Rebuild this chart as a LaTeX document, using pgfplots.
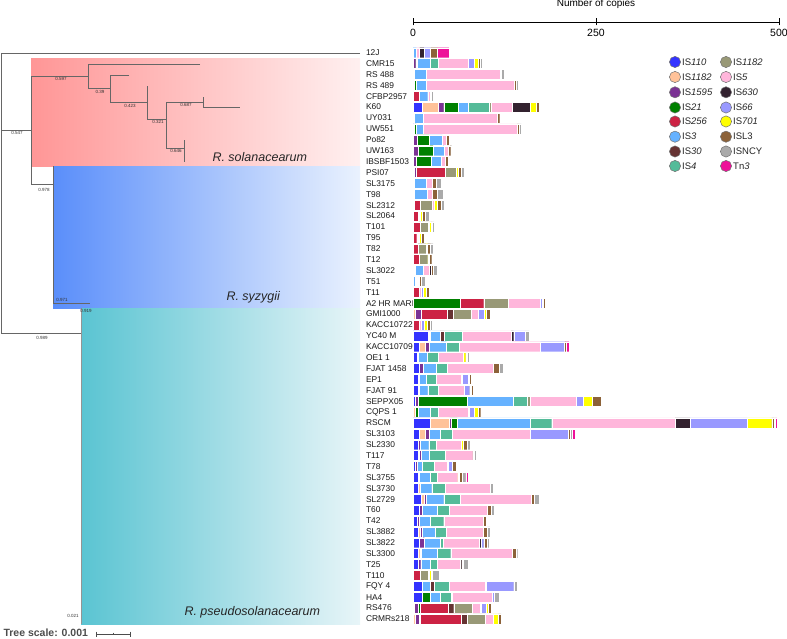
\documentclass[border=0pt]{standalone}
\usepackage{pgfplots}
\pgfplotsset{compat=1.18}
\usepackage{pgfplotstable}
\usepackage{fontspec}
\setmainfont{Liberation Sans}

\definecolor{cIS110}{HTML}{3333FF}
\definecolor{cIS1182}{HTML}{FFC299}
\definecolor{cIS1595}{HTML}{7B3294}
\definecolor{cIS21}{HTML}{008000}
\definecolor{cIS256}{HTML}{CC2244}
\definecolor{cIS3}{HTML}{66B2FF}
\definecolor{cIS30}{HTML}{663333}
\definecolor{cIS4}{HTML}{55BB99}
\definecolor{cISol}{HTML}{999977}
\definecolor{cIS5}{HTML}{FFB6DB}
\definecolor{cIS630}{HTML}{33222F}
\definecolor{cIS66}{HTML}{9999FF}
\definecolor{cIS701}{HTML}{FFFF00}
\definecolor{cISL3}{HTML}{8C6239}
\definecolor{cISNCY}{HTML}{AAAAAA}
\definecolor{cTn3}{HTML}{EE1199}
\definecolor{treegray}{HTML}{666666}

% copies per IS family, one row per strain (top to bottom)
\pgfplotstableread{
row i110 i1182 i1595 i21 i256 i3 i30 i4 iol i5 i630 i66 i701 il3 incy tn3
1  0    0    0    0    0    4.5  0   0    0    4.5   6    9    0   9    0   16
2  0    0    3.6  1.4  0    18   0   12   0    40    0    8    5.5 3    3   0
3  0    0    1.5  0    0    16   0   0    0    101.5 0    0    0   2    3   0
4  1    0    1    2    0    14   0   0    0    120   0    0    0   2.5  3   0
5  0    0    0    0    9    11   0   0    0    3     0    0    0   1.5  2.5 0
6  12   23   7    20   0    13   0   29   3    29    24   0    8   4    0   0
7  0    0    2    0    0    12   0   0    0    101.5 0    0    0   3    2   0
8  1.5  0    0    3    0    10   0   0    0    127.5 0    0    0   3    3   0
9  0    0    6    16   0    18   0   0    0    5.5   0    0    0   3.5  1   0
10 0    0    7    20.5 0    15   0   0    0    6     0    0    0   3    1.5 0
11 0    0    4.5  20.5 0    13.5 0   0    0    5.5   0    0    0   3.5  1   0
12 0    2    2    0    40.5 0    0   0    14.5 0     0    0    3   3.5  4.5 0
13 0    0    0    2    0    16   0   0    0    8     0    0    0   6    7   0
14 0    0    0    1    0    18   0   0    0    7     0    0    0   7    8   0
15 0    0    2    0    8    0    0   0    16   3.5   0    0    3   6    4   0
16 0    0    0    0    7    0    0   0    0    2     1    0    3   4    5   0
17 0    0    0    0    9.5  0    0   0    11   2     0    0    2   1.5  3   0
18 0    0    0    0    5    0    0   0    0    2     0    1.5  3   4    0   0
19 0    0    0    0    6.5  0    0   0    11   0     0    0    2   4.5  3.5 0
20 0    0    0    0    8    0    0   0    12   0     0    0    2   3.5  2   0
21 2    0    0    1.5  0    11   0   0    0    8     2    0    0   3    6   0
22 0    0    0    0    0    3    0   1    0    0     2    1    1.5 3    5   0
23 0    0    0    0    8    0    0   0    0    3     0    3.5  3   4.5  1.5 0
24 0    0    0    65   31.5 0    0   0    34   43.5  0    2    2   2    0   0
25 0    3    8    0    36   0    8   0    25   9     0    8    3.5 4.5  0   0
26 0    0    0    0    9    0    0   0    0    2     0    4    4   4    3   0
27 20.5 0    1.5  0    1.5  13.5 6   24   0    67    3.5  15.5 0   0    6   0
28 9    8    5.5  0    0    23   0   17   0    111.5 0    33   0   2    0   4
29 6    0    0    1    0    12   0   16   0    34    0    0    3   2    3   0
30 9    0    4.5  0    0    18   0   15   0    63    0    0    0   8    5.5 0
31 7    0    0    2    0    9    0   14   0    34    1    8    2   3    0   0
32 7    0    2    0    0    11   0   14   0    35.5  1    7    2   2.5  0   0
33 3.5  0    3    67.5 0    63   0   19   4    63    0    10   12  11.5 0   0
34 0    2.5  0    4    0    17   0   11.5 0    40    2    6    6   3.5  0   0
35 23.5 26.5 2.5  8    0    100  0   29   0    168.5 20.5 77.5 34  3    2   2
36 8.5  8.5  5    0    0    15.5 0   16   0    107   0    51.5 0   3    2   4
37 7    0    3    0    0    11.5 0   10.5 0    34    0    0    3   4.5  5   0
38 7    2    2    0    0    11.5 0   22   0    37    0    0    0   2    3   0
39 3    0    3    0    0    7    0   16   0    18    1    5.5  0   5    2   0
40 7    2    0    0    0    15   0   8.5  0    28.5  0    0    2   4.5  4.5 3
41 7    3    0    0    0    15.5 0   18.5 0    61.5  0    0    0   0    4   0
42 11   4.5  3    0    0    23.5 0   23   0    97    0    0    0   3    7   0
43 8    0    5    0    0    19.5 0   17   0    52    0    0    0   5.5  4   0
44 5.5  0    3    0    0    15   0   18.5 0    54    0    0    0   3.5  2   0
45 7.5  2    3    0    0    18   0   15   0    50.5  0    0    0   5.5  4   0
46 9    0    6.5  0    0    21.5 0   4    0    50    2    3.5  0   4.5  3   0
47 6.5  3    2    0    0    21   0   19   0    84    0    0    0   5    2.5 0
48 7.5  0    3    0    0    13   0   9    0    32.5  1.5  0    0   2.5  6.5 0
49 0    0    0    0    9.5  0    0   0    11   2     0    0    2   1.5  9.5 0
50 12.5 0    0    0    0    10.5 5.5 21   0    49.5  1    37.5 0   0    4.5 0
51 12   0    0    12   0    13   0   15.5 1.5  54    0    3    0   0    7   0
52 0    2    4.5  3    38.5 0    7.5 0    25.5 10.5  1    7    3.5 3.5  0   0
53 0    2.5  5.5  2    56   0    8   0    25   10.5  0    0    6.5 4.5  0   0
}\copies

\tikzset{treeline/.style={treegray, line width=0.8pt, no markers},
         bootstrap/.style={font=\fontsize{4.5}{5}\selectfont, text=black!80}}

\begin{document}
\begin{tikzpicture}
\useasboundingbox (0,0) rectangle (787pt,638pt);

% tree and clade shading (axis units = pixels)
\begin{axis}[at={(0,0)}, anchor=south west, scale only axis,
    width=787pt, height=638pt, xmin=0, xmax=787, ymin=0, ymax=638,
    y dir=reverse, hide axis, clip=false]
  \fill[left color={rgb,255:red,255;green,150;blue,150}, right color={rgb,255:red,255;green,240;blue,240}]
    (axis cs:31,58) rectangle (axis cs:360,166);
  \fill[left color={rgb,255:red,90;green,142;blue,250}, right color={rgb,255:red,234;green,242;blue,254}]
    (axis cs:53,166) rectangle (axis cs:360,308);
  \fill[left color={rgb,255:red,90;green,196;blue,210}, right color={rgb,255:red,232;green,245;blue,248}]
    (axis cs:81,308) rectangle (axis cs:360,624);

  \addplot[treeline] coordinates {(360,53) (1,53) (1,333) (81,333)};
  \addplot[treeline] coordinates {(1,130) (31,130)};
  \addplot[treeline] coordinates {(88,76) (31,76) (31,184) (53,184)};
  \addplot[treeline] coordinates {(200,64) (88,64) (88,88) (110,88)};
  \addplot[treeline] coordinates {(129,75) (110,75) (110,102) (147,102)};
  \addplot[treeline] coordinates {(147,86) (147,119) (166,119)};
  \addplot[treeline] coordinates {(203,102) (166,102) (166,148) (184,148)};
  \addplot[treeline] coordinates {(203,97) (203,107) (240,107)};
  \addplot[treeline] coordinates {(184,140) (184,162)};
  \addplot[treeline] coordinates {(53,166) (53,303) (90,303)};
  \addplot[treeline, treegray!70] coordinates {(81,308) (81,624)};

  \node[bootstrap] at (axis cs:17,133) {0.547};
  \node[bootstrap] at (axis cs:61,79) {0.597};
  \node[bootstrap] at (axis cs:100,92) {0.39};
  \node[bootstrap] at (axis cs:130,106) {0.423};
  \node[bootstrap] at (axis cs:158,122) {0.321};
  \node[bootstrap] at (axis cs:186,105) {0.687};
  \node[bootstrap] at (axis cs:176,151) {0.646};
  \node[bootstrap] at (axis cs:44,190) {0.978};
  \node[bootstrap] at (axis cs:62,300) {0.971};
  \node[bootstrap] at (axis cs:86,311) {0.919};
  \node[bootstrap] at (axis cs:42,338) {0.989};
  \node[bootstrap] at (axis cs:73,616) {0.021};

  \node[anchor=west, font=\fontsize{12.5}{14}\selectfont\itshape, text=black!85] at (axis cs:209,157) {R. solanacearum};
  \node[anchor=west, font=\fontsize{12.5}{14}\selectfont\itshape, text=black!85] at (axis cs:223,297) {R. syzygii};
  \node[anchor=west, font=\fontsize{12.5}{14}\selectfont\itshape, text=black!85] at (axis cs:181,612) {R. pseudosolanacearum};

  \node[anchor=west, font=\fontsize{10.5}{12}\selectfont\bfseries, text=black!70] at (axis cs:0,633) {Tree scale: 0.001};
  \addplot[treeline, black!70] coordinates {(96,634) (130,634)};
  \addplot[treeline, black!70] coordinates {(96,631.5) (96,636.5)};
  \addplot[treeline, black!70] coordinates {(130,631.5) (130,636.5)};
  \addplot[treeline, black!70] coordinates {(113,632.5) (113,634)};
\end{axis}

% top scale
\begin{axis}[at={(413pt,616pt)}, anchor=south west, scale only axis,
    width=366pt, height=10pt, xmin=0, xmax=500, ymin=0, ymax=1,
    axis y line=none, axis x line*=bottom, x axis line style={-, line width=0.8pt},
    xtick={0,250,500}, tick align=center, major tick length=7pt,
    tick style={line width=0.8pt, black},
    ticklabel style={font=\fontsize{10.5}{12}\selectfont},
    /pgf/number format/assume math mode=true,
    title={Number of copies}, title style={font=\fontsize{10}{12}\selectfont, at={(0.5,1)}, anchor=south, yshift=-6pt}]
\end{axis}

% stacked bars
\begin{axis}[at={(413pt,13.6pt)}, anchor=south west, scale only axis,
    width=366pt, height=577.2pt, xmin=0, xmax=500, ymin=0.5, ymax=53.5,
    y dir=reverse, xbar stacked, bar width=10pt,
    axis line style={draw=none}, xtick=\empty, ytick={1,...,53},
    major tick length=0pt, clip=false,
    yticklabels={12J, CMR15, RS 488, RS 489, CFBP2957, K60, UY031, UW551, Po82, UW163,
      IBSBF1503, PSI07, SL3175, T98, SL2312, SL2064, T101, T95, T82, T12, SL3022, T51, T11,
      A2 HR MARDI, GMI1000, KACC10722, YC40 M, KACC10709, OE1 1, FJAT 1458, EP1, FJAT 91,
      SEPPX05, CQPS 1, RSCM, SL3103, SL2330, T117, T78, SL3755, SL3730, SL2729, T60, T42,
      SL3882, SL3822, SL3300, T25, T110, FQY 4, HA4, RS476, CRMRs218},
    yticklabel style={anchor=west, xshift=-50.5pt, font=\fontsize{8.4}{9}\selectfont, text=black!90},
    every axis plot/.append style={draw=white, line width=0.25pt}]
  \addplot[fill=cIS110] table[x=i110, y=row] {\copies};
  \addplot[fill=cIS1182] table[x=i1182, y=row] {\copies};
  \addplot[fill=cIS1595] table[x=i1595, y=row] {\copies};
  \addplot[fill=cIS21] table[x=i21, y=row] {\copies};
  \addplot[fill=cIS256] table[x=i256, y=row] {\copies};
  \addplot[fill=cIS3] table[x=i3, y=row] {\copies};
  \addplot[fill=cIS30] table[x=i30, y=row] {\copies};
  \addplot[fill=cIS4] table[x=i4, y=row] {\copies};
  \addplot[fill=cISol] table[x=iol, y=row] {\copies};
  \addplot[fill=cIS5] table[x=i5, y=row] {\copies};
  \addplot[fill=cIS630] table[x=i630, y=row] {\copies};
  \addplot[fill=cIS66] table[x=i66, y=row] {\copies};
  \addplot[fill=cIS701] table[x=i701, y=row] {\copies};
  \addplot[fill=cISL3] table[x=il3, y=row] {\copies};
  \addplot[fill=cISNCY] table[x=incy, y=row] {\copies};
  \addplot[fill=cTn3] table[x=tn3, y=row] {\copies};
\end{axis}

% legend (picture coordinates: x = pixel, y = 638 - pixel)
\foreach \col/\txt/\yy in {cIS110/IS\textit{110}/62, cIS1182/IS\textit{1182}/77,
    cIS1595/IS\textit{1595}/92.3, cIS21/IS\textit{21}/107.5, cIS256/IS\textit{256}/121.5,
    cIS3/IS\textit{3}/136.7, cIS30/IS\textit{30}/151.5, cIS4/IS\textit{4}/166} {
  \fill[\col, draw=black!55, line width=0.5pt] (675pt,638pt-\yy pt) circle[radius=5.6pt];
  \node[anchor=west, inner sep=0pt, font=\fontsize{9.5}{11}\selectfont, text=black!85] at (682pt,638pt-\yy pt) {\txt};
}
\foreach \col/\txt/\yy in {cISol/IS\textit{1182}/62, cIS5/IS\textit{5}/77,
    cIS630/IS\textit{630}/92.3, cIS66/IS\textit{66}/107.5, cIS701/IS\textit{701}/121.5,
    cISL3/ISL3/136.7, cISNCY/ISNCY/151.5, cTn3/Tn\textit{3}/166} {
  \fill[\col, draw=black!55, line width=0.5pt] (726pt,638pt-\yy pt) circle[radius=5.6pt];
  \node[anchor=west, inner sep=0pt, font=\fontsize{9.5}{11}\selectfont, text=black!85] at (733pt,638pt-\yy pt) {\txt};
}
\end{tikzpicture}
\end{document}
